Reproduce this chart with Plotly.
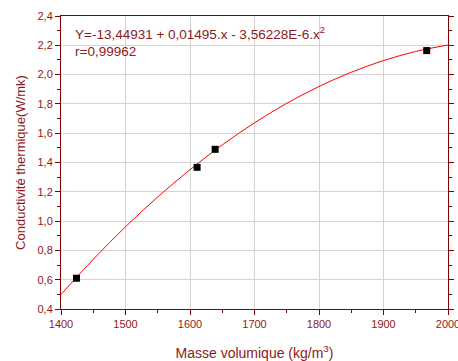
import plotly.graph_objects as go

# measured points
density = [1424, 1611, 1639, 1967]
conductivity = [0.61, 1.367, 1.49, 2.164]

# fitted curve
curve_x = [1400, 1450, 1500, 1550, 1600, 1650, 1700, 1750, 1800, 1850, 1900, 1950, 2000]
curve_y = [0.499, 0.739, 0.961, 1.165, 1.351, 1.520, 1.671, 1.804, 1.919, 2.016, 2.096, 2.158, 2.202]

x_ticks = [1400, 1500, 1600, 1700, 1800, 1900, 2000]
y_ticks = [0.4, 0.6, 0.8, 1.0, 1.2, 1.4, 1.6, 1.8, 2.0, 2.2, 2.4]

dark_red = "#8B1A1A"
axis_red = "#800000"

fig = go.Figure()
fig.add_trace(go.Scatter(x=curve_x, y=curve_y, mode="lines",
                         line=dict(color="#FF0000", width=1, shape="spline"),
                         showlegend=False, hoverinfo="skip"))
fig.add_trace(go.Scatter(x=density, y=conductivity, mode="markers",
                         marker=dict(symbol="square", size=7, color="black"),
                         showlegend=False, cliponaxis=False))

fig.update_layout(
    width=458, height=361,
    margin=dict(l=61, r=10, t=16, b=52),
    paper_bgcolor="white", plot_bgcolor="white",
    separators=", ",
    font=dict(family="Liberation Sans, Arial, sans-serif", color=dark_red, size=11),
)
fig.update_xaxes(
    range=[1400, 2000], tickvals=x_ticks, automargin=False, ticklabeloverflow="allow",
    showgrid=True, gridcolor="#D3D3D3", gridwidth=1,
    showline=True, linecolor=axis_red, linewidth=1, mirror=True,
    ticks="outside", ticklen=5, tickcolor=axis_red,
    minor=dict(dtick=50, ticks="outside", ticklen=3, tickcolor=axis_red, showgrid=False),
    tickfont=dict(size=11, color=dark_red),
    title=dict(text="Masse volumique (kg/m<sup>3</sup>)", font=dict(size=14, color=dark_red), standoff=18),
    zeroline=False,
)
fig.update_yaxes(
    range=[0.4, 2.4], tickvals=y_ticks, tickformat=".1f", automargin=False,
    showgrid=True, gridcolor="#D3D3D3", gridwidth=1,
    showline=True, linecolor=axis_red, linewidth=1, mirror="ticks",
    ticks="outside", ticklen=5, tickcolor=axis_red,
    minor=dict(dtick=0.1, ticks="outside", ticklen=3, tickcolor=axis_red, showgrid=False),
    tickfont=dict(size=11, color=dark_red),
    title=dict(text="Conductivité thermique(W/mk)", font=dict(size=13, color=dark_red), standoff=8),
    zeroline=False,
)
fig.add_annotation(
    xref="paper", yref="paper", x=0.03, y=0.98, xanchor="left", yanchor="top",
    text="Y=-13,44931 + 0,01495.x - 3,56228E-6.x<sup>2</sup><br>r=0,99962",
    showarrow=False, align="left",
    font=dict(size=13.5, color=dark_red, family="Liberation Sans, Arial, sans-serif"),
)

fig.write_html("out.html")
